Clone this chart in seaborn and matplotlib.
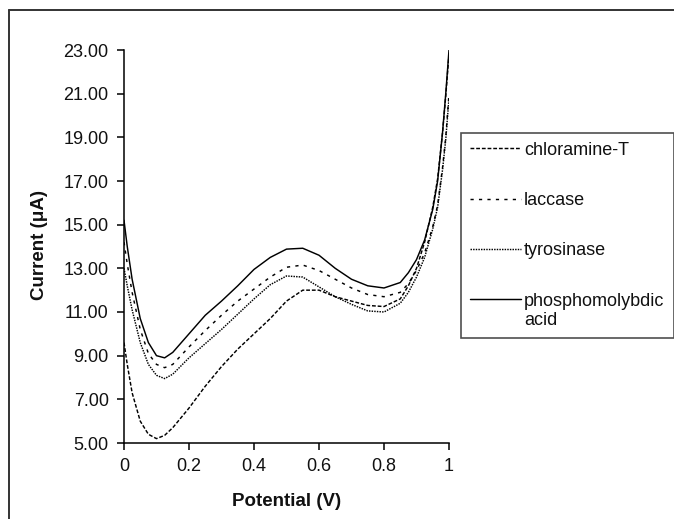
import numpy as np
import pandas as pd
import matplotlib
matplotlib.use("Agg")
import matplotlib.pyplot as plt
from matplotlib.lines import Line2D
import seaborn as sns

# Sweep potential (V)
potential = [0, 0.01, 0.025, 0.05, 0.075, 0.1, 0.125, 0.15, 0.2, 0.25, 0.3,
             0.35, 0.4, 0.45, 0.5, 0.55, 0.6, 0.65, 0.7, 0.75, 0.8, 0.85,
             0.875, 0.9, 0.925, 0.95, 0.965, 0.98, 0.99, 1.0]

# Current (uA) for each mediator
chloramine_t = [9.6, 8.6, 7.3, 6.0, 5.4, 5.2, 5.35, 5.7, 6.6, 7.6, 8.5,
                9.3, 10.0, 10.7, 11.5, 12.0, 12.0, 11.7, 11.5, 11.3, 11.25, 11.6,
                12.2, 13.0, 14.2, 15.8, 17.1, 19.2, 20.9, 22.8]
laccase = [14.2, 13.2, 11.9, 10.2, 9.1, 8.6, 8.45, 8.6, 9.4, 10.15, 10.85,
           11.5, 12.05, 12.6, 13.05, 13.15, 12.9, 12.5, 12.1, 11.8, 11.7, 11.9,
           12.3, 12.9, 13.7, 14.9, 15.9, 17.6, 19.0, 21.0]
tyrosinase = [13.0, 12.2, 11.1, 9.6, 8.6, 8.1, 7.95, 8.15, 8.9, 9.55, 10.2,
              10.9, 11.6, 12.25, 12.65, 12.6, 12.15, 11.7, 11.35, 11.05, 11.0, 11.4,
              11.9, 12.6, 13.5, 14.8, 15.8, 17.5, 18.9, 20.8]
phosphomolybdic = [15.2, 14.0, 12.5, 10.7, 9.6, 9.0, 8.9, 9.15, 10.0, 10.85, 11.5,
                   12.2, 12.95, 13.5, 13.88, 13.92, 13.6, 13.0, 12.5, 12.2, 12.1, 12.35,
                   12.8, 13.4, 14.3, 15.7, 17.0, 19.2, 21.0, 23.0]

series_names = ["chloramine-T", "laccase", "tyrosinase", "phosphomolybdic\nacid"]
series_values = [chloramine_t, laccase, tyrosinase, phosphomolybdic]

x_ticks = [0, 0.2, 0.4, 0.6, 0.8, 1]
x_tick_labels = ["0", "0.2", "0.4", "0.6", "0.8", "1"]
y_ticks = [5, 7, 9, 11, 13, 15, 17, 19, 21, 23]

df = pd.concat(
    [pd.DataFrame({"Potential": potential, "Current": vals, "series": name})
     for name, vals in zip(series_names, series_values)],
    ignore_index=True,
)

sns.set_theme(style="white")
plt.rcParams["font.family"] = ["Liberation Sans", "DejaVu Sans"]

W, H = 674, 519
fig = plt.figure(figsize=(W / 100, H / 100), dpi=100)
fig.patch.set_facecolor("white")
ax = fig.add_axes([124 / W, 1 - 443 / H, 325 / W, 393 / H])

dash_styles = {
    "chloramine-T": (2.6, 1.3),
    "laccase": (2.2, 3.6),
    "tyrosinase": (1.0, 0.8),
    "phosphomolybdic\nacid": "",
}

sns.lineplot(
    data=df, x="Potential", y="Current", style="series",
    dashes=dash_styles, color="black", linewidth=1.05,
    sort=False, estimator=None, ax=ax, legend=False,
)

ax.set_xlim(0, 1)
ax.set_ylim(5, 23)
ax.set_xticks(x_ticks)
ax.set_xticklabels(x_tick_labels)
ax.set_yticks(y_ticks)
ax.set_yticklabels([f"{v:.2f}" for v in y_ticks])
ax.set_xlabel("")
ax.set_ylabel("")
for side in ("top", "right"):
    ax.spines[side].set_visible(False)
for side in ("left", "bottom"):
    ax.spines[side].set_color("black")
    ax.spines[side].set_linewidth(1.1)
ax.tick_params(axis="both", which="major", direction="out", length=5, width=1.1,
               color="black", labelsize=13, labelcolor="#111111", pad=6,
               left=True, bottom=True)
ax.set_facecolor("white")

fig.text(40 / W, 1 - 245 / H, "Current (\u03bcA)", rotation=90, ha="center",
         va="center", fontsize=13.5, fontweight="bold", color="#111111")
fig.text(287 / W, 1 - 502 / H, "Potential (V)", ha="center", va="center",
         fontsize=13.5, fontweight="bold", color="#111111")

handles = []
for n in series_names:
    h = Line2D([], [], color="black", linewidth=1.05,
               linestyle="--" if dash_styles[n] else "-")
    if dash_styles[n]:
        h.set_dashes(dash_styles[n])
    handles.append(h)

leg = fig.legend(
    handles, series_names, loc="upper left",
    bbox_to_anchor=(461 / W, 1 - 133 / H), bbox_transform=fig.transFigure,
    borderaxespad=0, frameon=True, fancybox=False, shadow=False,
    fontsize=13, handlelength=2.8, handletextpad=0.2, labelspacing=1.84,
    borderpad=0.5,
)
leg.get_frame().set_edgecolor("#222222")
leg.get_frame().set_linewidth(1.2)
for t in leg.get_texts():
    t.set_color("#111111")

# keep the sample line level with the first line of a two-line label
for column in leg._legend_handle_box.get_children():
    for item in column.get_children():
        item.align = "top"

# page frame around the chart
fig.add_artist(Line2D([9 / W, 9 / W], [0, 1 - 10 / H], transform=fig.transFigure,
                      color="#333333", linewidth=1.4))
fig.add_artist(Line2D([9 / W, 1], [1 - 10 / H, 1 - 10 / H], transform=fig.transFigure,
                      color="#333333", linewidth=1.4))

fig.savefig("out.png", dpi=100, facecolor="white")
